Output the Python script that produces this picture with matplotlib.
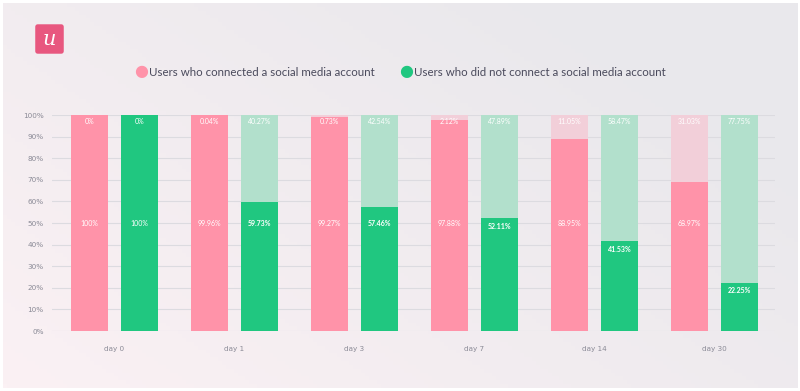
import numpy as np
import matplotlib.pyplot as plt
from matplotlib.patches import FancyBboxPatch

# Data
days = ["day 0", "day 1", "day 3", "day 7", "day 14", "day 30"]
connected = [100, 99.96, 99.27, 97.88, 88.95, 68.97]
connected_rest = [0, 0.04, 0.73, 2.12, 11.05, 31.03]
not_connected = [100, 59.73, 57.46, 52.11, 41.53, 22.25]
not_connected_rest = [0, 40.27, 42.54, 47.89, 58.47, 77.75]

def fmt(v):
    return f"{v:g}%"

pink, pink_l = "#FF93A9", "#F2CFD9"
green, green_l = "#20C780", "#B2E0CC"
txt = "#4A4A5C"

fig = plt.figure(figsize=(8, 3.91), dpi=100)
fig.patch.set_facecolor("white")

# soft diagonal background: pinkish bottom-left, grey top-right
bg = fig.add_axes([3/800, 3/391, 794/800, 385/391], zorder=-10)
xx = np.linspace(0, 1, 200)
yy = np.linspace(0, 1, 100)
X, Y = np.meshgrid(xx, yy)
t = np.clip((X * 0.7 + Y * 0.5), 0, 1)[..., None]
c0 = np.array([0xFB, 0xF1, 0xF4]) / 255
c1 = np.array([0xE9, 0xE8, 0xEC]) / 255
img = c0 * (1 - t) + c1 * t
bg.imshow(img, extent=[0, 1, 0, 1], aspect="auto", origin="lower")
bg.set_axis_off()

# logo
logo = fig.add_axes([34/800, 1-55/391, 31/800, 32/391])
logo.add_patch(FancyBboxPatch((0.04, 0.04), 0.92, 0.92,
                              boxstyle="round,pad=0,rounding_size=0.08",
                              fc="#E8577F", ec="none"))
logo.text(0.5, 0.47, "u", color="white", fontsize=15, style="italic",
          family="DejaVu Serif", ha="center", va="center")
logo.set_xlim(0, 1)
logo.set_ylim(0, 1)
logo.set_axis_off()

# legend
fig.text(141/800, 1-72/391, "\u25CF", color=pink, fontsize=11.5, ha="center", va="center")
fig.text(149/800, 1-72/391, "Users who connected a social media account",
         color=txt, fontsize=8.3, family="Lato", ha="left", va="center")
fig.text(406/800, 1-72/391, "\u25CF", color=green, fontsize=11.5, ha="center", va="center")
fig.text(414/800, 1-72/391, "Users who did not connect a social media account",
         color=txt, fontsize=8.3, family="Lato", ha="left", va="center")

ax = fig.add_axes([52/800, 1-331/391, 723/800, 216/391])
ax.set_facecolor("none")
x = np.arange(len(days))
w = 0.305
off = 0.208

ax.bar(x - off, connected, w, color=pink, zorder=2)
ax.bar(x - off, connected_rest, w, bottom=connected, color=pink_l, zorder=2)
ax.bar(x + off, not_connected, w, color=green, zorder=2)
ax.bar(x + off, not_connected_rest, w, bottom=not_connected, color=green_l, zorder=2)

for i in range(len(days)):
    for xo, lo, hi in [(x[i] - off, connected[i], connected_rest[i]),
                       (x[i] + off, not_connected[i], not_connected_rest[i])]:
        ax.text(xo, 97.2, fmt(hi), color="white", fontsize=5, ha="center",
                va="center", family="Lato", zorder=3)
        ax.text(xo, min(50, lo - 3.7), fmt(lo), color="white", fontsize=5,
                ha="center", va="center", family="Lato", zorder=3,
                fontweight="bold" if lo < 99 and xo > x[i] else "normal")

ax.set_xlim(-0.52, 5.505)
ax.set_ylim(0, 100)
ax.set_yticks(np.arange(0, 101, 10))
ax.set_yticklabels([f"{v}%" for v in range(0, 101, 10)])
ax.set_xticks(x)
ax.set_xticklabels(days)
ax.grid(axis="y", color="#DCDBE0", linewidth=0.8, zorder=0)
ax.tick_params(axis="both", length=0, labelsize=5.2, colors="#8A8A96")
ax.tick_params(axis="x", pad=11)
ax.tick_params(axis="y", pad=6)
for s in ax.spines.values():
    s.set_visible(False)

fig.savefig("out.png", dpi=100, facecolor=fig.get_facecolor())
